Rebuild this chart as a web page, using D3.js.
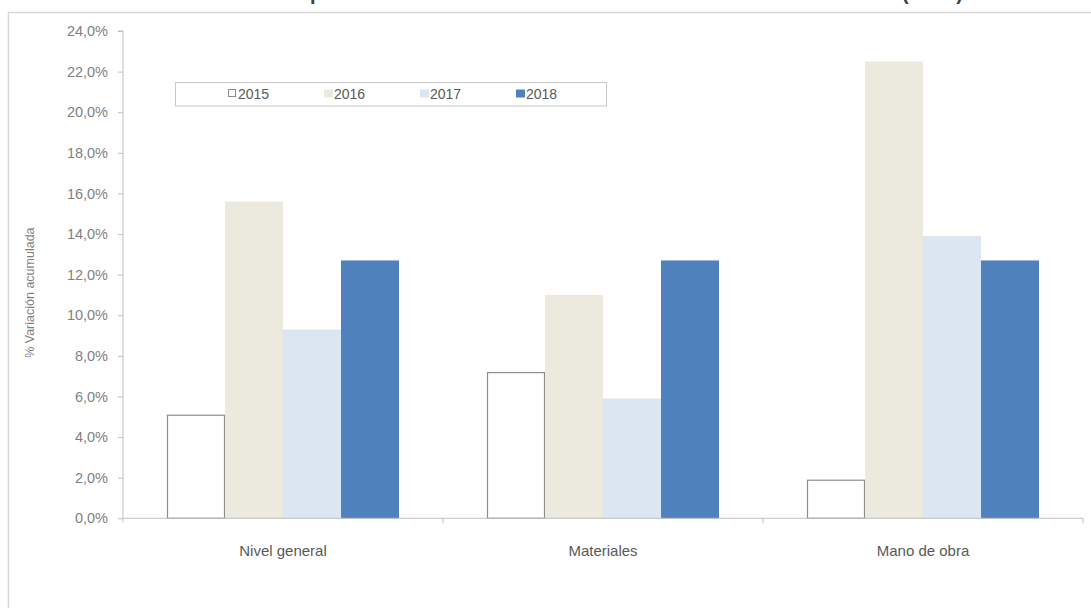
<!DOCTYPE html>
<html><head><meta charset="utf-8">
<script src="https://cdn.jsdelivr.net/npm/d3@7"></script>
<style>html,body{margin:0;padding:0;background:#fff;overflow:hidden}</style>
</head><body>
<svg id="c" width="1091" height="608"></svg>
<script>
const categories = ["Nivel general", "Materiales", "Mano de obra"];
const years = ["2015", "2016", "2017", "2018"];
const v2015 = [5.1, 7.2, 1.9];
const v2016 = [15.6, 11.0, 22.5];
const v2017 = [9.3, 5.9, 13.9];
const v2018 = [12.7, 12.7, 12.7];
const yTicks = [0, 2, 4, 6, 8, 10, 12, 14, 16, 18, 20, 22, 24];
const titleText = "Variación acumulada por rubro del Índice del Costo de la Construcción de Vivienda (ICCV)";
const yTitle = "% Variación acumulada";

const series = [v2015, v2016, v2017, v2018];
const fills = ["#ffffff", "#ECEADF", "#DCE6F2", "#4F81BD"];
const strokes = ["#8c8c8c", "none", "none", "none"];

const svg = d3.select("#c");
const font = "Arial, 'Liberation Sans', sans-serif";

// outer frame
svg.append("rect").attr("x", 8.5).attr("y", 12.5).attr("width", 1200).attr("height", 700)
  .attr("fill", "none").attr("stroke", "#d9d9d9").attr("stroke-width", 1.5);

// title (cut off at top, as in the reference)
svg.append("text").attr("x", 963).attr("y", 0).attr("text-anchor", "end")
  .attr("font-family", font).attr("font-weight", "bold").attr("font-size", 20)
  .attr("fill", "#404040").text(titleText);

const pL = 123, pR = 1083, pT = 31, pB = 518.3;
const x0 = d3.scaleBand().domain(categories).range([pL, pR]).paddingInner(0).paddingOuter(0);
const x1 = d3.scaleBand().domain(years).range([44, x0.bandwidth() - 44]).padding(0);
const y = d3.scaleLinear().domain([0, 24]).range([pB, pT]);

// y axis
const yAxis = svg.append("g").attr("transform", `translate(${pL},0)`)
  .call(d3.axisLeft(y).tickValues(yTicks).tickSize(5).tickPadding(10)
    .tickFormat(d => d.toFixed(1).replace(".", ",") + "%"));
yAxis.select(".domain").attr("stroke", "#bfbfbf").attr("d", `M-5,${pT}H0V${pB + 4}`);
yAxis.selectAll(".tick line").attr("stroke", "#bfbfbf");
yAxis.selectAll(".tick text").attr("font-family", font).attr("font-size", 14.5).attr("fill", "#7f7f7f");

// bars
const groups = svg.append("g").selectAll("g").data(categories).join("g")
  .attr("transform", d => `translate(${x0(d)},0)`);
groups.selectAll("rect").data((c, ci) => years.map((yr, si) => ({yr, si, v: series[si][ci]})))
  .join("rect")
  .attr("x", d => x1(d.yr) + (d.si === 0 ? 0.5 : 0))
  .attr("width", d => x1.bandwidth() - (d.si === 0 ? 1 : 0))
  .attr("y", d => y(d.v) + (d.si === 0 ? 0.5 : 0))
  .attr("height", d => pB - y(d.v) - (d.si === 0 ? 0.5 : 0))
  .attr("fill", d => fills[d.si])
  .attr("stroke", d => strokes[d.si])
  .attr("stroke-width", 1.2);

// x axis
const xAxis = svg.append("g").attr("transform", `translate(0,${pB})`)
  .call(d3.axisBottom(x0).tickSize(0).tickPadding(27));
xAxis.select(".domain").attr("stroke", "#bfbfbf").attr("d", `M${pL},0H${pR}V5`);
xAxis.selectAll(".tick text").attr("font-family", font).attr("font-size", 15).attr("fill", "#595959");
svg.append("g").selectAll("line").data(categories.slice(1)).join("line")
  .attr("x1", d => x0(d)).attr("x2", d => x0(d)).attr("y1", pB).attr("y2", pB + 5)
  .attr("stroke", "#bfbfbf");

// y title
svg.append("text").attr("transform", `translate(34,${(pT + pB) / 2 + 18}) rotate(-90)`)
  .attr("text-anchor", "middle").attr("font-family", font).attr("font-size", 12.5)
  .attr("fill", "#7f7f7f").text(yTitle);

// legend
const lg = svg.append("g");
lg.append("rect").attr("x", 175.5).attr("y", 82.5).attr("width", 431).attr("height", 23.5)
  .attr("fill", "#fff").attr("stroke", "#c8c8c8");
const lx = d3.scalePoint().domain(years).range([228, 516]);
const items = lg.selectAll("g").data(years).join("g").attr("transform", d => `translate(${lx(d)},94)`);
items.append("rect").attr("x", (d, i) => i === 0 ? 0.5 : 0).attr("y", -4.5)
  .attr("width", (d, i) => i === 0 ? 7 : 9).attr("height", (d, i) => i === 0 ? 7 : 8)
  .attr("fill", (d, i) => fills[i]).attr("stroke", (d, i) => strokes[i]);
items.append("text").attr("x", 10).attr("y", 5).attr("font-family", font).attr("font-size", 14)
  .attr("fill", "#595959").text(d => d);
</script>
</body></html>
